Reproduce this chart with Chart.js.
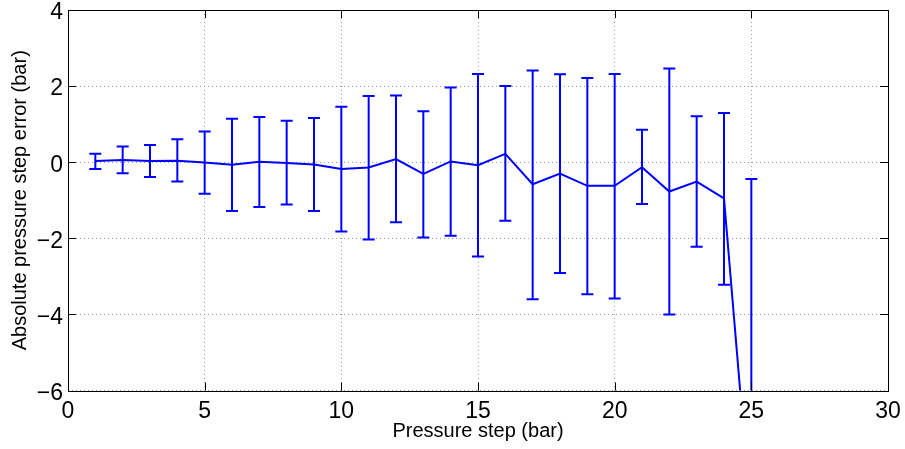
<!DOCTYPE html>
<html>
<head>
<meta charset="utf-8">
<script src="https://cdn.jsdelivr.net/npm/chart.js@4/dist/chart.umd.min.js"></script>
<style>
    html, body { margin: 0; padding: 0; background: #fff; }
</style>
</head>
<body>
<canvas id="chartPreview" width="905" height="449"></canvas>
<script>
// pressure steps (bar)
const steps = [1, 2, 3, 4, 5, 6, 7, 8, 9, 10, 11, 12, 13, 14, 15, 16, 17, 18, 19, 20, 21, 22, 23, 24, 25];
// mean absolute error per step
const meanError = [0.03, 0.06, 0.03, 0.04, -0.01, -0.07, 0.01, -0.02, -0.06, -0.18,
    -0.14, 0.08, -0.31, 0.02, -0.08, 0.22, -0.58, -0.30, -0.62, -0.62,
    -0.13, -0.77, -0.51, -0.95, -9.5];
// error bar ends
const upperError = [0.22, 0.41, 0.45, 0.60, 0.81, 1.14, 1.19, 1.09, 1.16, 1.46,
    1.74, 1.75, 1.34, 1.96, 2.32, 2.00, 2.41, 2.31, 2.21, 2.32,
    0.85, 2.46, 1.21, 1.29, -0.44];
const lowerError = [-0.18, -0.29, -0.39, -0.51, -0.83, -1.28, -1.18, -1.11, -1.28, -1.82,
    -2.03, -1.58, -1.98, -1.93, -2.48, -1.54, -3.60, -2.91, -3.47, -3.58,
    -1.10, -4.00, -2.22, -3.22, -18.6];

const xTicks = [0, 5, 10, 15, 20, 25, 30];
const yTicks = [-6, -4, -2, 0, 2, 4];

const blue = "#0000ff";
Chart.defaults.font.family = "'Liberation Sans', Arial, sans-serif";
Chart.defaults.color = "#000";

// error bars, drawn with the chart's own scales
const errorBars = {
    id: "errorBars",
    beforeDatasetsDraw(chart) {
        const { ctx, chartArea, scales } = chart;
        ctx.save();
        ctx.beginPath();
        ctx.rect(chartArea.left, chartArea.top, chartArea.right - chartArea.left, chartArea.bottom - chartArea.top);
        ctx.clip();
        ctx.strokeStyle = blue;
        ctx.lineWidth = 2;
        for (let i = 0; i < steps.length; i++) {
            const x = scales.x.getPixelForValue(steps[i]);
            const yTop = scales.y.getPixelForValue(upperError[i]);
            const yBot = scales.y.getPixelForValue(lowerError[i]);
            ctx.beginPath();
            ctx.moveTo(x, yTop);
            ctx.lineTo(x, yBot);
            ctx.moveTo(x - 6, yTop);
            ctx.lineTo(x + 6, yTop);
            ctx.moveTo(x - 6, yBot);
            ctx.lineTo(x + 6, yBot);
            ctx.stroke();
        }
        ctx.restore();
    },
};

// matlab-like box with inward ticks
const boxTicks = {
    id: "boxTicks",
    afterDraw(chart) {
        const { ctx, chartArea, scales } = chart;
        const { left, right, top, bottom } = chartArea;
        ctx.save();
        ctx.strokeStyle = "#000";
        ctx.lineWidth = 1;
        ctx.beginPath();
        xTicks.forEach((v) => {
            const x = Math.round(scales.x.getPixelForValue(v)) + 0.5;
            ctx.moveTo(x, bottom);
            ctx.lineTo(x, bottom - 8);
            ctx.moveTo(x, top);
            ctx.lineTo(x, top + 8);
        });
        yTicks.forEach((v) => {
            const y = Math.round(scales.y.getPixelForValue(v)) + 0.5;
            ctx.moveTo(left, y);
            ctx.lineTo(left + 8, y);
            ctx.moveTo(right, y);
            ctx.lineTo(right - 8, y);
        });
        ctx.stroke();
        ctx.strokeRect(Math.round(left) + 0.5, Math.round(top) + 0.5, Math.round(right - left), Math.round(bottom - top));
        ctx.restore();
    },
};

const gridStyle = {
    color: "#9a9a9a",
    lineWidth: 1,
    drawTicks: false,
};

const cfg = {
    type: "line",
    data: {
        datasets: [
            {
                label: "Error",
                data: steps.map((s, i) => ({ x: s, y: meanError[i] })),
                borderColor: blue,
                borderWidth: 2,
                pointRadius: 0,
                tension: 0,
                fill: false,
                clip: 0,
            },
        ],
    },
    options: {
        responsive: false,
        animation: false,
        devicePixelRatio: 1,
        layout: { padding: { top: 10, right: 17, left: 0, bottom: 0 } },
        plugins: {
            legend: { display: false },
            tooltip: { enabled: false },
        },
        scales: {
            x: {
                type: "linear",
                min: 0,
                max: 30,
                afterFit: (scale) => {
                    scale.height = 58.5;
                    scale.paddingLeft = 0;
                    scale.paddingRight = 0;
                },
                afterBuildTicks: (scale) => { scale.ticks = xTicks.map((v) => ({ value: v })); },
                ticks: { font: { size: 23 }, padding: 7, maxRotation: 0 },
                grid: gridStyle,
                border: { display: false, dash: [1, 3] },
                title: {
                    display: true,
                    text: "Pressure step (bar)",
                    font: { size: 20 },
                    padding: { top: 0, bottom: 6 },
                },
            },
            y: {
                min: -6,
                max: 4,
                afterFit: (scale) => {
                    scale.width = 68;
                    scale.paddingTop = 0;
                    scale.paddingBottom = 0;
                },
                afterBuildTicks: (scale) => { scale.ticks = yTicks.map((v) => ({ value: v })); },
                ticks: {
                    font: { size: 23 },
                    padding: 5,
                    labelOffset: 3,
                    callback: (v) => String(v).replace("-", "\u2212"),
                },
                grid: gridStyle,
                border: { display: false, dash: [1, 3] },
                title: {
                    display: true,
                    text: "Absolute pressure step error (bar)",
                    font: { size: 20 },
                    padding: { top: 8, bottom: 0 },
                },
            },
        },
    },
    plugins: [errorBars, boxTicks],
};

const chart = new Chart(document.getElementById("chartPreview"), cfg);
</script>
</body>
</html>
